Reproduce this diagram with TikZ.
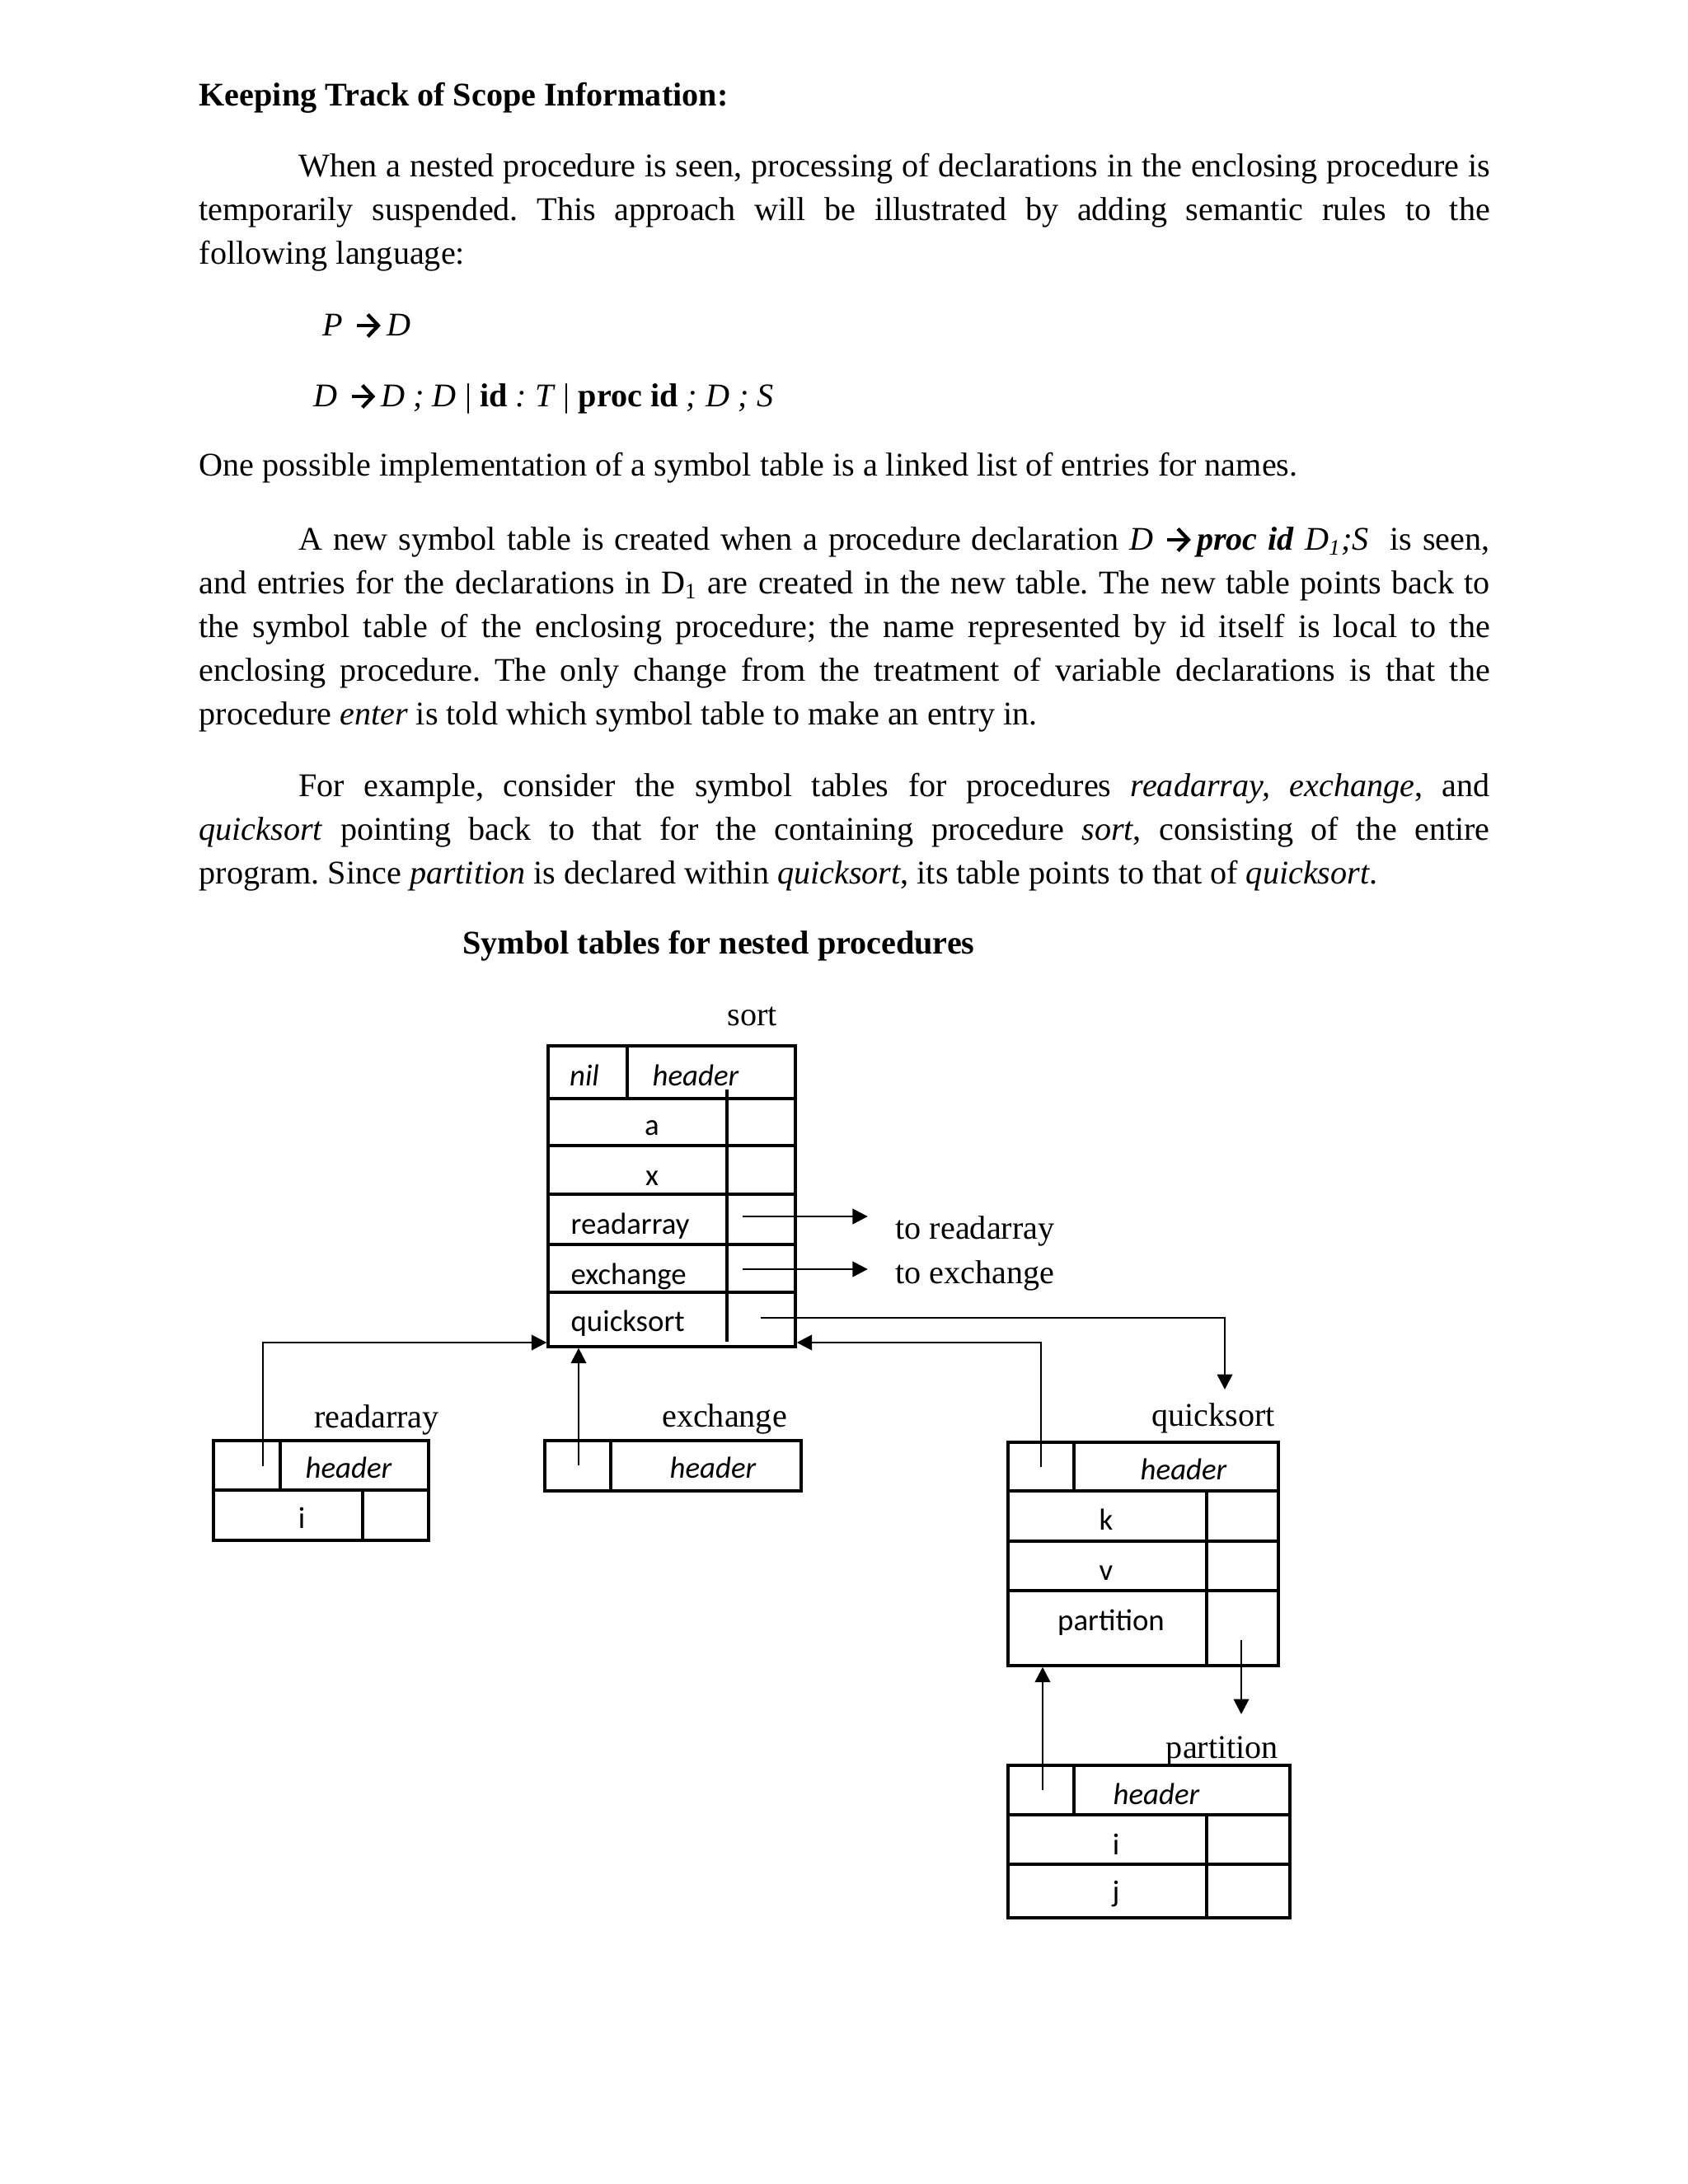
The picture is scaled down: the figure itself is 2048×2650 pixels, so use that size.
\documentclass[tikz,border=0pt]{standalone}
\usepackage{fontspec}
\setmainfont{Liberation Serif}
\newfontfamily\calibri{Carlito}
\usetikzlibrary{arrows.meta, fit, positioning}
\frenchspacing

\newcommand{\goesto}{\hspace{4.5pt}\tikz[baseline=0pt]\draw[line width=1.3pt, -{Straight Barb[length=3.8pt, width=8pt, line width=1.3pt]}] (0pt,3.6pt) -- (8.5pt,3.6pt);\hspace{1.5pt}}

\begin{document}
\begin{tikzpicture}[
    x=0.29883pt, y=-0.29883pt,
    prose/.style={anchor=base west, inner sep=0pt, text width=468pt, align=justify, font=\fontsize{12}{15.84}\selectfont},
    txt/.style={anchor=base west, inner sep=0pt, font=\fontsize{12}{14}\selectfont},
    lbl/.style={anchor=base, inner sep=0pt, font=\fontsize{12}{14}\selectfont},
    entry/.style={anchor=base, inner sep=0pt, font=\calibri\fontsize{11}{13}\selectfont},
    hdr/.style={entry, font=\calibri\itshape\fontsize{11}{13}\selectfont},
    tabrow/.style={draw, line width=1pt, inner sep=0pt},
    divider/.style={line width=1pt},
    ptr/.style={-{Triangle[length=5.5pt, width=5.5pt]}, line width=0.8pt}
]
\useasboundingbox (0,0) rectangle (2048,2650);

\node[txt, font=\bfseries\fontsize{12}{14}\selectfont] (heading) at (241,128) {Keeping Track of Scope Information:};

\node[prose] (intro) at (241,214) {\hspace*{36pt}When a nested procedure is seen, processing of declarations in the enclosing procedure is\linebreak temporarily suspended. This approach will be illustrated by adding semantic rules to the\linebreak following language:};

\node[txt] (rule-p) at (391,407) {\textit{P}\goesto\textit{D}};
\node[txt] (rule-d) at (380,493) {\textit{D}\goesto\textit{D} \textit{;} \textit{D} | \textbf{id} \textit{:} \textit{T} | \textbf{proc id} \textit{;} \textit{D} \textit{;} \textit{S}};

\node[txt] (impl) at (241,577) {One possible implementation of a symbol table is a linked list of entries for names.};

\node[prose] (newtab) at (241,667) {\hspace*{36pt}A new symbol table is created when a procedure declaration \textit{D}\goesto\textbf{\textit{proc id}} \textit{D\textsubscript{1};S}\ \ is seen,\linebreak and entries for the declarations in D\textsubscript{1} are created in the new table. The new table points back to\linebreak the symbol table of the enclosing procedure; the name represented by id itself is local to the\linebreak enclosing procedure. The only change from the treatment of variable declarations is that the\linebreak procedure \textit{enter} is told which symbol table to make an entry in.};

\node[prose] (example) at (241,966) {\hspace*{36pt}For example, consider the symbol tables for procedures \textit{readarray, exchange}, and\linebreak \textit{quicksort} pointing back to that for the containing procedure \textit{sort}, consisting of the entire\linebreak program. Since \textit{partition} is declared within \textit{quicksort}, its table points to that of \textit{quicksort}.};

\node[lbl, font=\bfseries\fontsize{12}{14}\selectfont] (caption) at (872,1157) {Symbol tables for nested procedures};

\node[tabrow, fit={(665,1269) (761,1333)}] (sort-nil) {};
\node[tabrow, fit={(761,1269) (965,1333)}] (sort-head) {};
\node[tabrow, fit={(665,1333) (965,1390)}] (sort-a) {};
\node[tabrow, fit={(665,1390) (965,1449)}] (sort-x) {};
\node[tabrow, fit={(665,1449) (965,1510)}] (sort-ra) {};
\node[tabrow, fit={(665,1510) (965,1568)}] (sort-ex) {};
\node[tabrow, fit={(665,1568) (965,1634)}] (sort-qs) {};
\draw[divider] (882,1322) -- (882,1628);

\node[lbl] (sort-name) at (913,1244) {sort};
\node[hdr] (sort-niltext) at (709,1317) {nil};
\node[hdr] (sort-hdrtext) at (844,1317) {header};
\node[entry] (sort-atext) at (791,1377) {a};
\node[entry] (sort-xtext) at (791,1438) {x};
\node[entry, anchor=base west] (sort-ratext) at (692,1497) {readarray};
\node[entry, anchor=base west] (sort-extext) at (692,1558) {exchange};
\node[entry, anchor=base west] (sort-qstext) at (692,1615) {quicksort};
\node[txt] (to-ra) at (1086,1503) {to readarray};
\node[txt] (to-ex) at (1086,1557) {to exchange};

\node[tabrow, fit={(259,1748) (340,1808)}] (ra-link) {};
\node[tabrow, fit={(340,1748) (520,1808)}] (ra-head) {};
\node[tabrow, fit={(259,1808) (440,1869)}] (ra-i) {};
\node[tabrow, fit={(440,1808) (520,1869)}] (ra-iptr) {};
\node[lbl] (ra-name) at (457,1732) {readarray};
\node[hdr] (ra-hdrtext) at (423,1793) {header};
\node[entry] (ra-itext) at (366,1854) {i};

\node[tabrow, fit={(661,1748) (741,1809)}] (ex-link) {};
\node[tabrow, fit={(741,1748) (972,1809)}] (ex-head) {};
\node[lbl] (ex-name) at (879,1731) {exchange};
\node[hdr] (ex-hdrtext) at (865,1793) {header};

\node[tabrow, fit={(1223,1750) (1303,1809)}] (qs-link) {};
\node[tabrow, fit={(1303,1750) (1551,1809)}] (qs-head) {};
\node[tabrow, fit={(1223,1809) (1551,1870)}] (qs-k) {};
\node[tabrow, fit={(1223,1870) (1551,1930)}] (qs-v) {};
\node[tabrow, fit={(1223,1930) (1551,2021)}] (qs-part) {};
\draw[divider] (1464,1809) -- (1464,2021);
\node[lbl] (qs-name) at (1472,1730) {quicksort};
\node[hdr] (qs-hdrtext) at (1436,1795) {header};
\node[entry] (qs-ktext) at (1342,1856) {k};
\node[entry] (qs-vtext) at (1342,1917) {v};
\node[entry] (qs-parttext) at (1348,1978) {partition};

\node[tabrow, fit={(1223,2142) (1303,2202)}] (pt-link) {};
\node[tabrow, fit={(1303,2142) (1565,2202)}] (pt-head) {};
\node[tabrow, fit={(1223,2202) (1565,2262)}] (pt-i) {};
\node[tabrow, fit={(1223,2262) (1565,2327)}] (pt-j) {};
\draw[divider] (1464,2202) -- (1464,2327);
\node[lbl] (pt-name) at (1483,2133) {partition};
\node[hdr] (pt-hdrtext) at (1403,2189) {header};
\node[entry] (pt-itext) at (1354,2250) {i};
\node[entry] (pt-jtext) at (1354,2307) {j};

\coordinate (ra-out) at (901,1476);
\coordinate (ex-out) at (901,1540);
\coordinate (qs-out) at (923,1599);
\coordinate (qs-drop) at (1486,1686);
\coordinate (ra-back) at (319,1779);
\coordinate (ex-back) at (702,1778);
\coordinate (qs-back) at (1263,1780);
\coordinate (pt-out) at (1506,1990);
\coordinate (pt-drop) at (1506,2080);
\coordinate (pt-back) at (1265,2172);

\draw[ptr, shorten >=9.9pt] (ra-out) -- (ra-out -| to-ra.west);
\draw[ptr, shorten >=9.9pt] (ex-out) -- (ex-out -| to-ex.west);
\draw[ptr] (qs-out) -| (qs-drop);
\draw[ptr] (ra-back) |- ([yshift=2pt]sort-qs.south west);
\draw[ptr] (ex-back) -- (ex-back |- sort-qs.south);
\draw[ptr] (qs-back) |- ([yshift=2pt]sort-qs.south east);
\draw[ptr] (pt-out) -- (pt-drop);
\draw[ptr] (pt-back) -- (pt-back |- qs-part.south);

\end{tikzpicture}
\end{document}
